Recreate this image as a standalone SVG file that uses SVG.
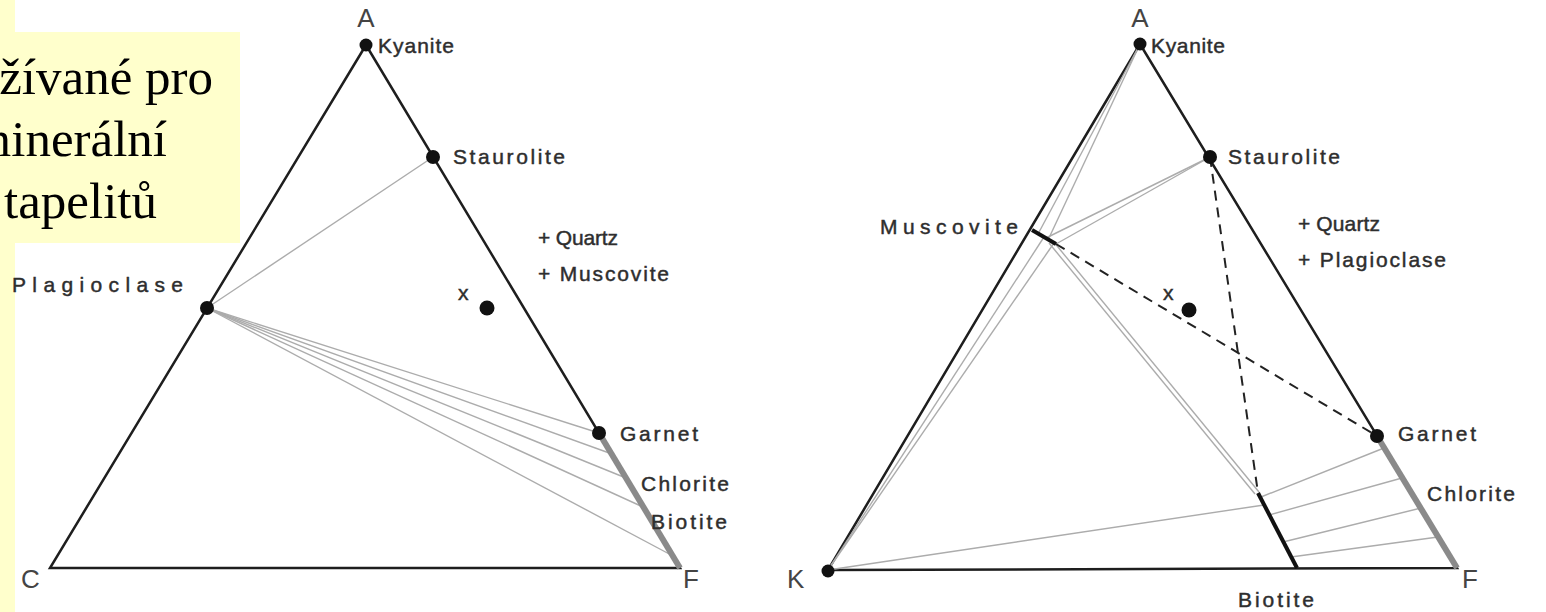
<svg xmlns="http://www.w3.org/2000/svg" width="1546" height="612" viewBox="0 0 1546 612">
<style>
.bg{fill:#ffffff}
.note{fill:#ffffcc}
.cz{font-family:"Liberation Serif","Times New Roman",serif;font-size:51px;fill:#000}
.lbl{font-family:"Liberation Sans",Arial,sans-serif;font-size:21px;fill:#2e2e2e;stroke:#2e2e2e;stroke-width:0.45}
.vtx{font-family:"Liberation Sans",Arial,sans-serif;font-size:26px;fill:#444}
.side{stroke:#1e1e1e;stroke-width:2.5;fill:none;stroke-linejoin:miter}
.tie{stroke:#acacac;stroke-width:1.4;fill:none}
.band{stroke:#8a8a8a;stroke-width:6;stroke-linecap:butt}
.thick{stroke:#111;stroke-width:4;stroke-linecap:butt}
.dash{stroke:#222;stroke-width:2;stroke-dasharray:10 7;fill:none}
.dot{fill:#111}
</style>
<rect class="bg" x="0" y="0" width="1546" height="612"/>

<g id="note">
<rect class="note" x="0" y="0" width="15" height="612"/>
<rect class="note" x="0" y="32" width="240" height="211"/>
<text class="cz" x="213" y="94" text-anchor="end">žívané pro</text>
<text class="cz" x="167" y="156" text-anchor="end">minerální</text>
<text class="cz" x="157" y="218" text-anchor="end">tapelitů</text>
</g>

<g id="connectors">
<!-- left diagram -->
<polygon class="side" points="366,45 50,568 680,568"/>
<line class="tie" x1="433" y1="157" x2="207" y2="308"/>
<line class="tie" x1="207" y1="308" x2="599" y2="433"/>
<line class="tie" x1="207" y1="308" x2="612" y2="454"/>
<line class="tie" x1="207" y1="308" x2="626" y2="478"/>
<line class="tie" x1="207" y1="308" x2="643" y2="507"/>
<line class="tie" x1="207" y1="308" x2="673" y2="556"/>
<line class="band" x1="599" y1="433" x2="680" y2="568"/>
<!-- right diagram -->
<polygon class="side" points="1140,44 828,570 1457,568"/>
<line class="tie" x1="1140" y1="44" x2="1038" y2="234"/>
<line class="tie" x1="1140" y1="44" x2="1048" y2="240"/>
<line class="tie" x1="828" y1="570" x2="1044" y2="237"/>
<line class="tie" x1="828" y1="570" x2="1054" y2="243"/>
<line class="tie" x1="1210" y1="157" x2="1046" y2="238"/>
<line class="tie" x1="1210" y1="157" x2="1056" y2="244"/>
<line class="tie" x1="1049" y1="243" x2="1255" y2="494"/>
<line class="tie" x1="1053" y1="241" x2="1259" y2="492"/>
<line class="tie" x1="828" y1="570" x2="1264" y2="505"/>
<line class="tie" x1="1261" y1="497" x2="1384" y2="448"/>
<line class="tie" x1="1269" y1="515" x2="1402" y2="478"/>
<line class="tie" x1="1283" y1="542" x2="1421" y2="508"/>
<line class="tie" x1="1291" y1="557" x2="1438" y2="537"/>
<line class="dash" x1="1056" y1="244" x2="1377" y2="436"/>
<line class="dash" x1="1210" y1="157" x2="1258" y2="493"/>
<line class="band" x1="1377" y1="436" x2="1457" y2="568"/>
<line class="thick" x1="1258" y1="493" x2="1297" y2="568"/>
<line class="thick" x1="1032" y1="230" x2="1056" y2="244"/>
</g>

<g id="left-A"><text class="vtx" x="366" y="27" text-anchor="middle">A</text></g>
<g id="left-C"><text class="vtx" x="21" y="588">C</text></g>
<g id="left-F"><text class="vtx" x="683" y="588">F</text></g>
<g id="left-kyanite"><circle class="dot" cx="366" cy="45" r="6.5"/><text class="lbl" x="378" y="53" textLength="76" lengthAdjust="spacing">Kyanite</text></g>
<g id="left-staurolite"><circle class="dot" cx="433" cy="157" r="7"/><text class="lbl" x="453" y="164" textLength="112" lengthAdjust="spacing">Staurolite</text></g>
<g id="left-plagioclase"><circle class="dot" cx="207" cy="308" r="7"/><text class="lbl" x="12" y="292" textLength="171" lengthAdjust="spacing">Plagioclase</text></g>
<g id="left-garnet"><circle class="dot" cx="599" cy="433" r="7"/><text class="lbl" x="620" y="441" textLength="78" lengthAdjust="spacing">Garnet</text></g>
<g id="left-chlorite"><text class="lbl" x="641" y="491" textLength="88" lengthAdjust="spacing">Chlorite</text></g>
<g id="left-biotite"><text class="lbl" x="651" y="529" textLength="76" lengthAdjust="spacing">Biotite</text></g>
<g id="left-x"><circle class="dot" cx="487" cy="308" r="7.5"/><text class="lbl" x="458" y="300">x</text></g>
<g id="left-extra"><text class="lbl" x="538" y="245" textLength="80" lengthAdjust="spacing">+ Quartz</text><text class="lbl" x="538" y="281" textLength="131" lengthAdjust="spacing">+ Muscovite</text></g>

<g id="right-A"><text class="vtx" x="1140" y="27" text-anchor="middle">A</text></g>
<g id="right-K"><circle class="dot" cx="828" cy="571" r="6.5"/><text class="vtx" x="787" y="588">K</text></g>
<g id="right-F"><text class="vtx" x="1462" y="588">F</text></g>
<g id="right-kyanite"><circle class="dot" cx="1140" cy="44" r="6.5"/><text class="lbl" x="1151" y="53" textLength="74" lengthAdjust="spacing">Kyanite</text></g>
<g id="right-staurolite"><circle class="dot" cx="1210" cy="157" r="7"/><text class="lbl" x="1228" y="164" textLength="112" lengthAdjust="spacing">Staurolite</text></g>
<g id="right-muscovite"><text class="lbl" x="880" y="234" textLength="138" lengthAdjust="spacing">Muscovite</text></g>
<g id="right-garnet"><circle class="dot" cx="1377" cy="436" r="7"/><text class="lbl" x="1398" y="441" textLength="78" lengthAdjust="spacing">Garnet</text></g>
<g id="right-chlorite"><text class="lbl" x="1427" y="501" textLength="88" lengthAdjust="spacing">Chlorite</text></g>
<g id="right-biotite"><text class="lbl" x="1238" y="607" textLength="76" lengthAdjust="spacing">Biotite</text></g>
<g id="right-x"><circle class="dot" cx="1189" cy="310" r="7.5"/><text class="lbl" x="1163" y="300">x</text></g>
<g id="right-extra"><text class="lbl" x="1298" y="231" textLength="82" lengthAdjust="spacing">+ Quartz</text><text class="lbl" x="1298" y="267" textLength="148" lengthAdjust="spacing">+ Plagioclase</text></g>
</svg>
